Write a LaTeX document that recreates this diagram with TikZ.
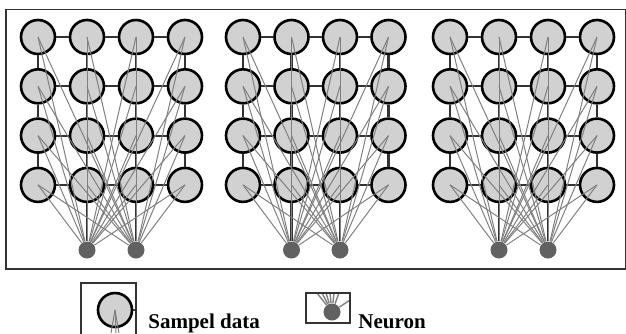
\documentclass[tikz,border=0pt]{standalone}
\usepackage{fontspec}
\setmainfont{Liberation Serif}
\usetikzlibrary{positioning}

\begin{document}
\begin{tikzpicture}[x=0.5pt, y=-0.5pt,
datanode/.style={circle, draw=black, fill=black!18, line width=1.3pt, minimum size=17pt, inner sep=0pt},
neuronnode/.style={circle, fill=black!62, minimum size=8.5pt, inner sep=0pt},
gridline/.style={draw=black!80, line width=1.1pt},
weightline/.style={draw=black!50, line width=0.5pt},
framebox/.style={draw=black!80, line width=0.9pt},
labeltext/.style={font=\fontsize{10.5}{12}\selectfont\bfseries, inner sep=0pt, anchor=base west},
]
\useasboundingbox (0,0) rectangle (626,333);
\draw[framebox] (6,9.5) rectangle (625.5,269);

% three sample grids with two neurons each
\foreach \g/\x/\s in {1/38/49, 2/243/48.5, 3/450/49} {
  \foreach \i in {1,...,4}
    \foreach \j in {1,...,4}
      \node[datanode] (d\g-\i-\j) at ({\x+\s*(\i-1)}, {37+49.3*(\j-1)}) {};
  \node[neuronnode] (n\g-1) at ({\x+\s}, 250) {};
  \node[neuronnode] (n\g-2) at ({\x+2*\s}, 250) {};
  \foreach \i in {1,...,4}
    \foreach \j/\jn in {1/2, 2/3, 3/4} {
      \draw[gridline] (d\g-\i-\j) -- (d\g-\i-\jn);
      \draw[gridline] (d\g-\j-\i) -- (d\g-\jn-\i);
    }
  \draw[gridline] (d\g-2-4) -- (n\g-1);
  \draw[gridline] (d\g-3-4) -- (n\g-2);
  \foreach \i in {1,...,4}
    \foreach \j in {1,...,4}
      \foreach \k in {1,2}
        \draw[weightline] (d\g-\i-\j.center) -- (n\g-\k);
}

% legend: sample data
\begin{scope}
\clip (81,283) rectangle (136,333);
\node[datanode] (ld) at (115,310) {};
\coordinate (lstub) at (136,310);
\coordinate (la) at (111,333);
\coordinate (lb) at (116,333);
\coordinate (lc) at (119,333);
\draw[gridline] (ld) -- (lstub);
\draw[weightline] (ld.center) -- (la);
\draw[weightline] (ld.center) -- (lb);
\draw[weightline] (ld.center) -- (lc);
\end{scope}
\draw[framebox] (81,340) |- (136,283) -- (136,340);
\node[labeltext] (sd) at (148,328) {Sampel data};

% legend: neuron
\begin{scope}
\clip (306,293) rectangle (350,323);
\node[neuronnode] (ln) at (332,312) {};
\foreach \t/\tx/\ty in {1/317/293, 2/322/293, 3/326/293, 4/330/293, 5/334/293, 6/339/293, 7/350/300}
  \coordinate (lt\t) at (\tx,\ty);
\foreach \t in {1,...,7}
  \draw[weightline, line width=0.7pt] (ln) -- (lt\t);
\end{scope}
\draw[framebox] (306,293) rectangle (350,323);
\node[labeltext] (ne) at (358,328) {Neuron};

\end{tikzpicture}
\end{document}
